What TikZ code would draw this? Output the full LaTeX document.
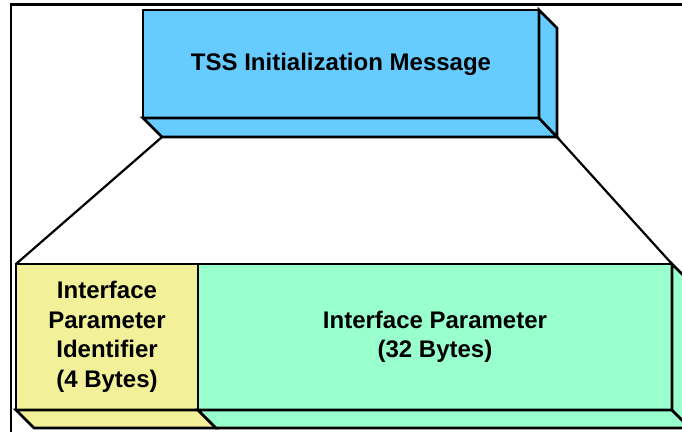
\documentclass[tikz,border=0pt]{standalone}
\usepackage{fontspec}
\setmainfont{Liberation Sans}
\usetikzlibrary{calc}
\definecolor{msgblue}{RGB}{102,204,255}
\definecolor{idyellow}{RGB}{242,240,152}
\definecolor{parmgreen}{RGB}{153,255,204}
\tikzset{
  face/.style={draw=black, line width=2.6pt, line join=miter},
  frontbox/.style={face, inner sep=0pt, outer sep=0pt, align=center,
    font=\bfseries\fontsize{24}{29.5}\selectfont},
  conn/.style={draw=black, line width=2.2pt},
  frameline/.style={draw=black, line width=2.6pt}
}
\begin{document}
\begin{tikzpicture}[x=1pt, y=-1pt]
\useasboundingbox (0,0) rectangle (682,431);
\clip (0,0) rectangle (682,431);
% outer frame
\draw[frameline] (682,4.5) -- (11,4.5) -- (11,432);
% top message box
\node[frontbox, fill=msgblue, minimum width=396pt, minimum height=108pt] (msg) at (341,64) {TSS Initialization Message};
\coordinate (msgbl) at ($(msg.south west)+(19,19)$);
\coordinate (msgbr) at ($(msg.south east)+(18,19)$);
\coordinate (msgtr) at ($(msg.north east)+(18,18)$);
\filldraw[face, fill=msgblue] (msg.south west) -- (msg.south east) -- (msgbr) -- (msgbl) -- cycle;
\filldraw[face, fill=msgblue] (msg.north east) -- (msgtr) -- (msgbr) -- (msg.south east) -- cycle;
% lower boxes
\node[frontbox, fill=idyellow, minimum width=182pt, minimum height=146pt] (ident) at (107,337) {Interface\\Parameter\\Identifier\\(4 Bytes)};
\node[frontbox, fill=parmgreen, minimum width=474pt, minimum height=146pt] (parm) at (435,337) {Interface Parameter\\(32 Bytes)};
\coordinate (idbl) at ($(ident.south west)+(18,18)$);
\coordinate (idbr) at ($(ident.south east)+(18,18)$);
\coordinate (pmbr) at ($(parm.south east)+(18,18)$);
\coordinate (pmtr) at ($(parm.north east)+(18,18)$);
\filldraw[face, fill=idyellow] (ident.south west) -- (ident.south east) -- (idbr) -- (idbl) -- cycle;
\filldraw[face, fill=parmgreen] (parm.south west) -- (parm.south east) -- (pmbr) -- (idbr) -- cycle;
\filldraw[face, fill=parmgreen] (parm.north east) -- (pmtr) -- (pmbr) -- (parm.south east) -- cycle;
% expansion lines
\draw[conn] (msgbl) -- (ident.north west);
\draw[conn] (msgbr) -- (parm.north east);
\end{tikzpicture}
\end{document}
